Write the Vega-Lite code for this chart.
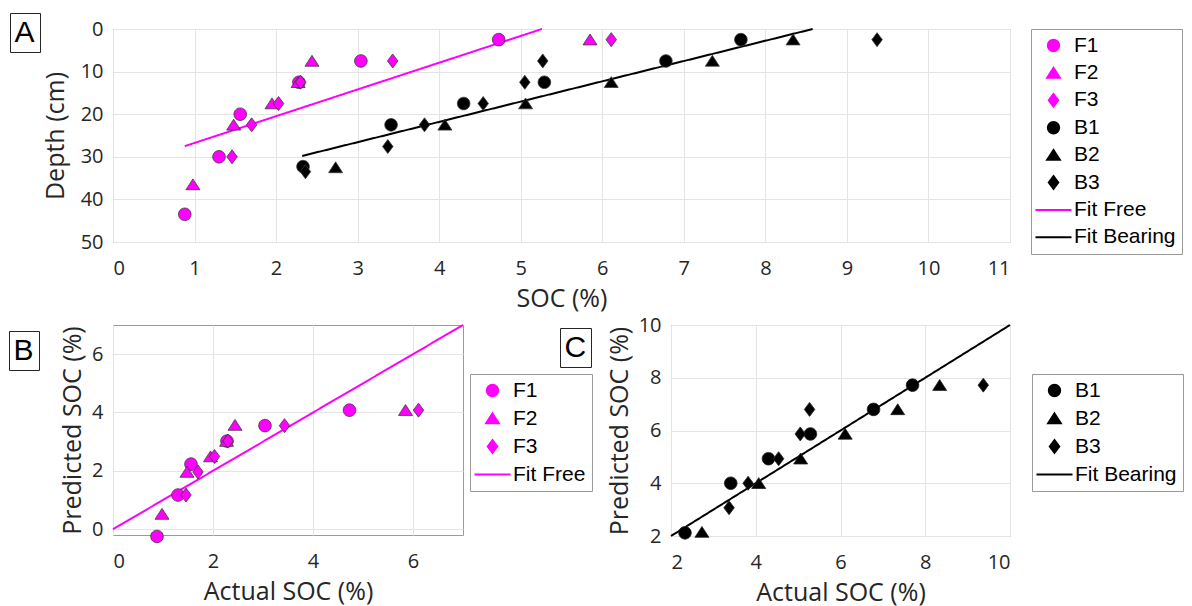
{
  "$schema": "https://vega.github.io/schema/vega-lite/v6.json",
  "background": "white",
  "padding": {"left": 8, "top": 12, "right": 0, "bottom": 0},
  "config": {
    "view": {"stroke": "#9a9a9a", "strokeWidth": 1},
    "axis": {
      "domain": false, "ticks": false, "grid": true, "gridColor": "#e4e4e4",
      "labelFont": "Open Sans", "labelFontSize": 20, "labelColor": "#262626",
      "titleFont": "Open Sans", "titleFontSize": 25, "titleFontWeight": "normal", "titleColor": "#262626"
    },
    "axisX": {"labelPadding": 16, "titlePadding": 8},
    "axisY": {"labelPadding": 10, "titlePadding": 6}
  },
  "datasets": {
    "soc": [
      {"series": "F1", "soc": 0.88, "depth": 43.5},
      {"series": "F1", "soc": 1.30, "depth": 30},
      {"series": "F1", "soc": 1.56, "depth": 20},
      {"series": "F1", "soc": 2.28, "depth": 12.5},
      {"series": "F1", "soc": 3.04, "depth": 7.5},
      {"series": "F1", "soc": 4.73, "depth": 2.5},
      {"series": "F2", "soc": 0.98, "depth": 36.5},
      {"series": "F2", "soc": 1.48, "depth": 22.5},
      {"series": "F2", "soc": 1.95, "depth": 17.5},
      {"series": "F2", "soc": 2.27, "depth": 12.5},
      {"series": "F2", "soc": 2.44, "depth": 7.5},
      {"series": "F2", "soc": 5.85, "depth": 2.5},
      {"series": "F3", "soc": 1.46, "depth": 30},
      {"series": "F3", "soc": 1.70, "depth": 22.5},
      {"series": "F3", "soc": 2.03, "depth": 17.5},
      {"series": "F3", "soc": 2.30, "depth": 12.5},
      {"series": "F3", "soc": 3.43, "depth": 7.5},
      {"series": "F3", "soc": 6.11, "depth": 2.5},
      {"series": "B1", "soc": 2.33, "depth": 32.3},
      {"series": "B1", "soc": 3.41, "depth": 22.5},
      {"series": "B1", "soc": 4.30, "depth": 17.5},
      {"series": "B1", "soc": 5.29, "depth": 12.5},
      {"series": "B1", "soc": 6.78, "depth": 7.5},
      {"series": "B1", "soc": 7.70, "depth": 2.5},
      {"series": "B2", "soc": 2.73, "depth": 32.5},
      {"series": "B2", "soc": 4.07, "depth": 22.5},
      {"series": "B2", "soc": 5.06, "depth": 17.5},
      {"series": "B2", "soc": 6.11, "depth": 12.5},
      {"series": "B2", "soc": 7.35, "depth": 7.5},
      {"series": "B2", "soc": 8.34, "depth": 2.5},
      {"series": "B3", "soc": 2.36, "depth": 33.5},
      {"series": "B3", "soc": 3.37, "depth": 27.6},
      {"series": "B3", "soc": 3.82, "depth": 22.5},
      {"series": "B3", "soc": 4.54, "depth": 17.5},
      {"series": "B3", "soc": 5.05, "depth": 12.5},
      {"series": "B3", "soc": 5.27, "depth": 7.5},
      {"series": "B3", "soc": 9.37, "depth": 2.5}
    ],
    "fitsA": [
      {"series": "Fit Free", "soc": 0.88, "depth": 27.5},
      {"series": "Fit Free", "soc": 5.26, "depth": 0},
      {"series": "Fit Bearing", "soc": 2.32, "depth": 29.8},
      {"series": "Fit Bearing", "soc": 8.58, "depth": 0}
    ],
    "predF": [
      {"series": "F1", "actual": 0.88, "pred": -0.25},
      {"series": "F1", "actual": 1.30, "pred": 1.17},
      {"series": "F1", "actual": 1.56, "pred": 2.23},
      {"series": "F1", "actual": 2.28, "pred": 3.02},
      {"series": "F1", "actual": 3.04, "pred": 3.55},
      {"series": "F1", "actual": 4.73, "pred": 4.08},
      {"series": "F2", "actual": 0.98, "pred": 0.52},
      {"series": "F2", "actual": 1.48, "pred": 1.96},
      {"series": "F2", "actual": 1.95, "pred": 2.49},
      {"series": "F2", "actual": 2.27, "pred": 3.02},
      {"series": "F2", "actual": 2.44, "pred": 3.57},
      {"series": "F2", "actual": 5.85, "pred": 4.08},
      {"series": "F3", "actual": 1.46, "pred": 1.17},
      {"series": "F3", "actual": 1.70, "pred": 1.96},
      {"series": "F3", "actual": 2.03, "pred": 2.49},
      {"series": "F3", "actual": 2.30, "pred": 3.02},
      {"series": "F3", "actual": 3.43, "pred": 3.55},
      {"series": "F3", "actual": 6.11, "pred": 4.08}
    ],
    "lineB": [
      {"series": "Fit Free", "actual": 0, "pred": 0},
      {"series": "Fit Free", "actual": 7, "pred": 7}
    ],
    "predB": [
      {"series": "B1", "actual": 2.33, "pred": 2.12},
      {"series": "B1", "actual": 3.41, "pred": 4.0},
      {"series": "B1", "actual": 4.30, "pred": 4.93},
      {"series": "B1", "actual": 5.29, "pred": 5.87},
      {"series": "B1", "actual": 6.78, "pred": 6.8},
      {"series": "B1", "actual": 7.70, "pred": 7.72},
      {"series": "B2", "actual": 2.73, "pred": 2.15},
      {"series": "B2", "actual": 4.07, "pred": 4.0},
      {"series": "B2", "actual": 5.06, "pred": 4.93},
      {"series": "B2", "actual": 6.11, "pred": 5.87},
      {"series": "B2", "actual": 7.35, "pred": 6.8},
      {"series": "B2", "actual": 8.34, "pred": 7.72},
      {"series": "B3", "actual": 3.37, "pred": 3.07},
      {"series": "B3", "actual": 3.82, "pred": 4.0},
      {"series": "B3", "actual": 4.54, "pred": 4.93},
      {"series": "B3", "actual": 5.05, "pred": 5.87},
      {"series": "B3", "actual": 5.27, "pred": 6.8},
      {"series": "B3", "actual": 9.37, "pred": 7.72}
    ],
    "lineC": [
      {"series": "Fit Bearing", "actual": 2, "pred": 2},
      {"series": "Fit Bearing", "actual": 10, "pred": 10}
    ]
  },
  "resolve": {
    "scale": {"color": "independent", "shape": "independent", "strokeDash": "independent"},
    "legend": {"color": "independent", "shape": "independent", "strokeDash": "independent"}
  },
  "spacing": 2,
  "vconcat": [
    {
      "width": 897,
      "height": 213,
      "layer": [
        {
          "data": {"name": "fitsA"},
          "mark": {"type": "line", "strokeWidth": 2},
          "encoding": {
            "x": {"field": "soc", "type": "quantitative"},
            "y": {"field": "depth", "type": "quantitative"},
            "color": {"field": "series", "type": "nominal",
              "legend": {"title": null, "orient": "none", "legendX": 918, "legendY": 0, "padding": 6, "symbolSize": 400, "symbolOffset": 6, "labelOffset": 10, "labelFont": "Liberation Sans", "labelFontSize": 21, "labelColor": "#000000", "rowPadding": 5.4, "strokeColor": "#9a9a9a", "fillColor": "#ffffff",
                "encode": {"symbols": {"update": {
                  "fill": {"signal": "indexof(['Fit Free','Fit Bearing'], datum.value) >= 0 ? 'transparent' : (indexof(['F1','F2','F3'], datum.value) >= 0 ? '#ff00ff' : '#000000')"},
                  "stroke": {"signal": "datum.value === 'Fit Free' ? '#ff00ff' : (datum.value === 'Fit Bearing' ? '#000000' : 'transparent')"},
                  "strokeWidth": {"value": 2},
                  "size": {"signal": "indexof(['Fit Free','Fit Bearing'], datum.value) >= 0 ? 400 : 160"},
                  "opacity": {"value": 1}
                }}}}},
            "strokeDash": {"datum": "A", "type": "nominal", "scale": {"range": [[1, 0]]},
              "legend": {"title": null, "orient": "none", "legendX": -103, "legendY": -16, "symbolType": "circle", "symbolSize": 0, "symbolOpacity": 0, "symbolStrokeWidth": 0, "labelFont": "Liberation Sans", "labelFontSize": 30, "labelColor": "#000000", "labelOffset": -30, "padding": 4.5, "strokeColor": "#262626", "fillColor": "#ffffff"}}
          }
        },
        {
          "data": {"name": "soc"},
          "mark": {"type": "point", "filled": true, "size": 196, "stroke": "#3a3a3a", "strokeWidth": 0.8, "opacity": 1},
          "encoding": {
            "x": {"field": "soc", "type": "quantitative", "scale": {"domain": [0, 11], "nice": false, "zero": false},
              "axis": {"values": [0, 1, 2, 3, 4, 5, 6, 7, 8, 9, 10, 11], "format": "d", "title": "SOC (%)"}},
            "y": {"field": "depth", "type": "quantitative", "scale": {"domain": [0, 50], "reverse": true, "nice": false, "zero": false},
              "axis": {"values": [0, 10, 20, 30, 40, 50], "format": "d", "title": "Depth (cm)", "titlePadding": 12}},
            "color": {"field": "series", "type": "nominal",
              "scale": {"domain": ["F1", "F2", "F3", "B1", "B2", "B3", "Fit Free", "Fit Bearing"], "range": ["#ff00ff", "#ff00ff", "#ff00ff", "#000000", "#000000", "#000000", "#ff00ff", "#000000"]},
              "legend": {"title": null, "orient": "none", "legendX": 918, "legendY": 0, "padding": 6, "symbolSize": 400, "symbolOffset": 6, "labelOffset": 10, "labelFont": "Liberation Sans", "labelFontSize": 21, "labelColor": "#000000", "rowPadding": 5.4, "strokeColor": "#9a9a9a", "fillColor": "#ffffff",
                "encode": {"symbols": {"update": {
                  "fill": {"signal": "indexof(['Fit Free','Fit Bearing'], datum.value) >= 0 ? 'transparent' : (indexof(['F1','F2','F3'], datum.value) >= 0 ? '#ff00ff' : '#000000')"},
                  "stroke": {"signal": "datum.value === 'Fit Free' ? '#ff00ff' : (datum.value === 'Fit Bearing' ? '#000000' : 'transparent')"},
                  "strokeWidth": {"value": 2},
                  "size": {"signal": "indexof(['Fit Free','Fit Bearing'], datum.value) >= 0 ? 400 : 160"},
                  "opacity": {"value": 1}
                }}}}},
            "shape": {"field": "series", "type": "nominal",
              "scale": {"domain": ["F1", "F2", "F3", "B1", "B2", "B3", "Fit Free", "Fit Bearing"],
                "range": ["M-0.9,0A0.9,0.9 0 1,0 0.9,0A0.9,0.9 0 1,0 -0.9,0Z", "M0,-0.8L1,0.75L-1,0.75Z", "M0,-1L0.75,0L0,1L-0.75,0Z", "M-0.9,0A0.9,0.9 0 1,0 0.9,0A0.9,0.9 0 1,0 -0.9,0Z", "M0,-0.8L1,0.75L-1,0.75Z", "M0,-1L0.75,0L0,1L-0.75,0Z", "M-1.8,0H1.8", "M-1.8,0H1.8"]},
              "legend": {"title": null, "orient": "none", "legendX": 918, "legendY": 0, "padding": 6, "symbolSize": 400, "symbolOffset": 6, "labelOffset": 10, "labelFont": "Liberation Sans", "labelFontSize": 21, "labelColor": "#000000", "rowPadding": 5.4, "strokeColor": "#9a9a9a", "fillColor": "#ffffff",
                "encode": {"symbols": {"update": {
                  "fill": {"signal": "indexof(['Fit Free','Fit Bearing'], datum.value) >= 0 ? 'transparent' : (indexof(['F1','F2','F3'], datum.value) >= 0 ? '#ff00ff' : '#000000')"},
                  "stroke": {"signal": "datum.value === 'Fit Free' ? '#ff00ff' : (datum.value === 'Fit Bearing' ? '#000000' : 'transparent')"},
                  "strokeWidth": {"value": 2},
                  "size": {"signal": "indexof(['Fit Free','Fit Bearing'], datum.value) >= 0 ? 400 : 160"},
                  "opacity": {"value": 1}
                }}}}}
          }
        }
      ]
    },
    {
      "bounds": "flush",
      "spacing": 208,
      "resolve": {
        "scale": {"color": "independent", "shape": "independent", "strokeDash": "independent"},
        "legend": {"color": "independent", "shape": "independent", "strokeDash": "independent"}
      },
      "hconcat": [
        {
          "width": 350,
          "height": 210,
          "layer": [
            {
              "data": {"name": "lineB"},
              "mark": {"type": "line", "strokeWidth": 2},
              "encoding": {
                "x": {"field": "actual", "type": "quantitative"},
                "y": {"field": "pred", "type": "quantitative"},
                "color": {"field": "series", "type": "nominal",
                  "legend": {"title": null, "orient": "none", "legendX": 357, "legendY": 49, "padding": 6, "symbolSize": 400, "symbolOffset": 6, "labelOffset": 10, "labelFont": "Liberation Sans", "labelFontSize": 21, "labelColor": "#000000", "rowPadding": 6, "strokeColor": "#9a9a9a", "fillColor": "#ffffff",
                    "encode": {"symbols": {"update": {
                      "fill": {"signal": "indexof(['Fit Free','Fit Bearing'], datum.value) >= 0 ? 'transparent' : (indexof(['F1','F2','F3'], datum.value) >= 0 ? '#ff00ff' : '#000000')"},
                      "stroke": {"signal": "datum.value === 'Fit Free' ? '#ff00ff' : (datum.value === 'Fit Bearing' ? '#000000' : 'transparent')"},
                      "strokeWidth": {"value": 2},
                      "size": {"signal": "indexof(['Fit Free','Fit Bearing'], datum.value) >= 0 ? 400 : 160"},
                      "opacity": {"value": 1}
                    }}}}},
                "strokeDash": {"datum": "B", "type": "nominal", "scale": {"range": [[1, 0]]},
                  "legend": {"title": null, "orient": "none", "legendX": -104, "legendY": 6, "symbolType": "circle", "symbolSize": 0, "symbolOpacity": 0, "symbolStrokeWidth": 0, "labelFont": "Liberation Sans", "labelFontSize": 30, "labelColor": "#000000", "labelOffset": -30, "padding": 4.5, "strokeColor": "#262626", "fillColor": "#ffffff"}}
              }
            },
            {
              "data": {"name": "predF"},
              "mark": {"type": "point", "filled": true, "size": 196, "stroke": "#3a3a3a", "strokeWidth": 0.8, "opacity": 1},
              "encoding": {
                "x": {"field": "actual", "type": "quantitative", "scale": {"domain": [0, 7], "nice": false, "zero": false},
                  "axis": {"values": [0, 2, 4, 6], "format": "d", "title": "Actual SOC (%)"}},
                "y": {"field": "pred", "type": "quantitative", "scale": {"domain": [-0.2, 7], "nice": false, "zero": false},
                  "axis": {"values": [0, 2, 4, 6], "format": "d", "title": "Predicted SOC (%)"}},
                "color": {"field": "series", "type": "nominal",
                  "scale": {"domain": ["F1", "F2", "F3", "Fit Free"], "range": ["#ff00ff", "#ff00ff", "#ff00ff", "#ff00ff"]},
                  "legend": {"title": null, "orient": "none", "legendX": 357, "legendY": 49, "padding": 6, "symbolSize": 400, "symbolOffset": 6, "labelOffset": 10, "labelFont": "Liberation Sans", "labelFontSize": 21, "labelColor": "#000000", "rowPadding": 6, "strokeColor": "#9a9a9a", "fillColor": "#ffffff",
                    "encode": {"symbols": {"update": {
                      "fill": {"signal": "indexof(['Fit Free','Fit Bearing'], datum.value) >= 0 ? 'transparent' : (indexof(['F1','F2','F3'], datum.value) >= 0 ? '#ff00ff' : '#000000')"},
                      "stroke": {"signal": "datum.value === 'Fit Free' ? '#ff00ff' : (datum.value === 'Fit Bearing' ? '#000000' : 'transparent')"},
                      "strokeWidth": {"value": 2},
                      "size": {"signal": "indexof(['Fit Free','Fit Bearing'], datum.value) >= 0 ? 400 : 160"},
                      "opacity": {"value": 1}
                    }}}}},
                "shape": {"field": "series", "type": "nominal",
                  "scale": {"domain": ["F1", "F2", "F3", "Fit Free"],
                    "range": ["M-0.9,0A0.9,0.9 0 1,0 0.9,0A0.9,0.9 0 1,0 -0.9,0Z", "M0,-0.8L1,0.75L-1,0.75Z", "M0,-1L0.75,0L0,1L-0.75,0Z", "M-1.8,0H1.8"]},
                  "legend": {"title": null, "orient": "none", "legendX": 357, "legendY": 49, "padding": 6, "symbolSize": 400, "symbolOffset": 6, "labelOffset": 10, "labelFont": "Liberation Sans", "labelFontSize": 21, "labelColor": "#000000", "rowPadding": 6, "strokeColor": "#9a9a9a", "fillColor": "#ffffff",
                    "encode": {"symbols": {"update": {
                      "fill": {"signal": "indexof(['Fit Free','Fit Bearing'], datum.value) >= 0 ? 'transparent' : (indexof(['F1','F2','F3'], datum.value) >= 0 ? '#ff00ff' : '#000000')"},
                      "stroke": {"signal": "datum.value === 'Fit Free' ? '#ff00ff' : (datum.value === 'Fit Bearing' ? '#000000' : 'transparent')"},
                      "strokeWidth": {"value": 2},
                      "size": {"signal": "indexof(['Fit Free','Fit Bearing'], datum.value) >= 0 ? 400 : 160"},
                      "opacity": {"value": 1}
                    }}}}}
              }
            }
          ]
        },
        {
          "width": 339,
          "height": 211,
          "layer": [
            {
              "data": {"name": "lineC"},
              "mark": {"type": "line", "strokeWidth": 2},
              "encoding": {
                "x": {"field": "actual", "type": "quantitative"},
                "y": {"field": "pred", "type": "quantitative"},
                "color": {"field": "series", "type": "nominal",
                  "legend": {"title": null, "orient": "none", "legendX": 361, "legendY": 49, "padding": 6, "symbolSize": 400, "symbolOffset": 6, "labelOffset": 10, "labelFont": "Liberation Sans", "labelFontSize": 21, "labelColor": "#000000", "rowPadding": 6, "strokeColor": "#9a9a9a", "fillColor": "#ffffff",
                    "encode": {"symbols": {"update": {
                      "fill": {"signal": "indexof(['Fit Free','Fit Bearing'], datum.value) >= 0 ? 'transparent' : (indexof(['F1','F2','F3'], datum.value) >= 0 ? '#ff00ff' : '#000000')"},
                      "stroke": {"signal": "datum.value === 'Fit Free' ? '#ff00ff' : (datum.value === 'Fit Bearing' ? '#000000' : 'transparent')"},
                      "strokeWidth": {"value": 2},
                      "size": {"signal": "indexof(['Fit Free','Fit Bearing'], datum.value) >= 0 ? 400 : 160"},
                      "opacity": {"value": 1}
                    }}}}},
                "strokeDash": {"datum": "C", "type": "nominal", "scale": {"range": [[1, 0]]},
                  "legend": {"title": null, "orient": "none", "legendX": -111, "legendY": 3, "symbolType": "circle", "symbolSize": 0, "symbolOpacity": 0, "symbolStrokeWidth": 0, "labelFont": "Liberation Sans", "labelFontSize": 30, "labelColor": "#000000", "labelOffset": -30, "padding": 4.5, "strokeColor": "#262626", "fillColor": "#ffffff"}}
              }
            },
            {
              "data": {"name": "predB"},
              "mark": {"type": "point", "filled": true, "size": 196, "stroke": "#222222", "strokeWidth": 0.8, "opacity": 1},
              "encoding": {
                "x": {"field": "actual", "type": "quantitative", "scale": {"domain": [2, 10], "nice": false, "zero": false},
                  "axis": {"values": [2, 4, 6, 8, 10], "format": "d", "title": "Actual SOC (%)"}},
                "y": {"field": "pred", "type": "quantitative", "scale": {"domain": [2, 10], "nice": false, "zero": false},
                  "axis": {"values": [2, 4, 6, 8, 10], "format": "d", "title": "Predicted SOC (%)"}},
                "color": {"field": "series", "type": "nominal",
                  "scale": {"domain": ["B1", "B2", "B3", "Fit Bearing"], "range": ["#000000", "#000000", "#000000", "#000000"]},
                  "legend": {"title": null, "orient": "none", "legendX": 361, "legendY": 49, "padding": 6, "symbolSize": 400, "symbolOffset": 6, "labelOffset": 10, "labelFont": "Liberation Sans", "labelFontSize": 21, "labelColor": "#000000", "rowPadding": 6, "strokeColor": "#9a9a9a", "fillColor": "#ffffff",
                    "encode": {"symbols": {"update": {
                      "fill": {"signal": "indexof(['Fit Free','Fit Bearing'], datum.value) >= 0 ? 'transparent' : (indexof(['F1','F2','F3'], datum.value) >= 0 ? '#ff00ff' : '#000000')"},
                      "stroke": {"signal": "datum.value === 'Fit Free' ? '#ff00ff' : (datum.value === 'Fit Bearing' ? '#000000' : 'transparent')"},
                      "strokeWidth": {"value": 2},
                      "size": {"signal": "indexof(['Fit Free','Fit Bearing'], datum.value) >= 0 ? 400 : 160"},
                      "opacity": {"value": 1}
                    }}}}},
                "shape": {"field": "series", "type": "nominal",
                  "scale": {"domain": ["B1", "B2", "B3", "Fit Bearing"],
                    "range": ["M-0.9,0A0.9,0.9 0 1,0 0.9,0A0.9,0.9 0 1,0 -0.9,0Z", "M0,-0.8L1,0.75L-1,0.75Z", "M0,-1L0.75,0L0,1L-0.75,0Z", "M-1.8,0H1.8"]},
                  "legend": {"title": null, "orient": "none", "legendX": 361, "legendY": 49, "padding": 6, "symbolSize": 400, "symbolOffset": 6, "labelOffset": 10, "labelFont": "Liberation Sans", "labelFontSize": 21, "labelColor": "#000000", "rowPadding": 6, "strokeColor": "#9a9a9a", "fillColor": "#ffffff",
                    "encode": {"symbols": {"update": {
                      "fill": {"signal": "indexof(['Fit Free','Fit Bearing'], datum.value) >= 0 ? 'transparent' : (indexof(['F1','F2','F3'], datum.value) >= 0 ? '#ff00ff' : '#000000')"},
                      "stroke": {"signal": "datum.value === 'Fit Free' ? '#ff00ff' : (datum.value === 'Fit Bearing' ? '#000000' : 'transparent')"},
                      "strokeWidth": {"value": 2},
                      "size": {"signal": "indexof(['Fit Free','Fit Bearing'], datum.value) >= 0 ? 400 : 160"},
                      "opacity": {"value": 1}
                    }}}}}
              }
            }
          ]
        }
      ]
    }
  ]
}
